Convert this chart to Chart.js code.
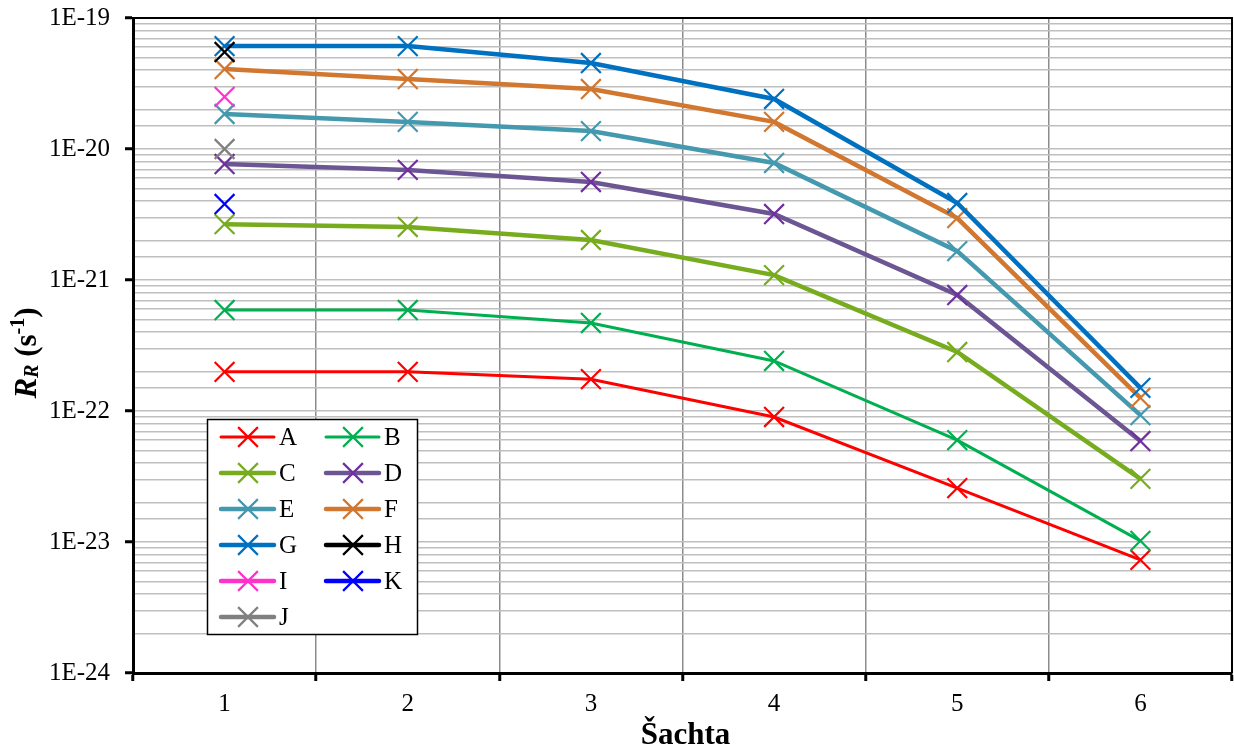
<!DOCTYPE html>
<html>
<head>
<meta charset="utf-8">
<script src="https://cdn.jsdelivr.net/npm/chart.js@4.4.1/dist/chart.umd.min.js"></script>
<style>
  body { margin: 0; background: #fff; }
  #wrap { width: 1234px; height: 751px; }
</style>
</head>
<body>
<div id="wrap"><canvas id="chart" width="1234" height="751"></canvas></div>
<script>
// Shafts on the x axis
const shafts = ['1', '2', '3', '4', '5', '6'];

// R_R values per series (s^-1)
const valsA = [1.99e-22, 1.99e-22, 1.75e-22, 9.0e-23, 2.58e-23, 7.3e-24];
const valsB = [5.9e-22, 5.9e-22, 4.7e-22, 2.41e-22, 6.0e-23, 1.02e-23];
const valsC = [2.67e-21, 2.54e-21, 2.02e-21, 1.09e-21, 2.82e-22, 3.03e-23];
const valsD = [7.68e-21, 6.92e-21, 5.6e-21, 3.19e-21, 7.68e-22, 5.9e-23];
const valsE = [1.85e-20, 1.61e-20, 1.37e-20, 7.82e-21, 1.66e-21, 9.3e-23];
const valsF = [4.08e-20, 3.42e-20, 2.87e-20, 1.61e-20, 2.97e-21, 1.26e-22];
const valsG = [6.1e-20, 6.1e-20, 4.53e-20, 2.41e-20, 3.87e-21, 1.5e-22];
const valsH = [5.5e-20];
const valsI = [2.5e-20];
const valsK = [3.8e-21];
const valsJ = [1.0e-20];

// Decades that get a label and a tick mark
const yDecades = [1e-24, 1e-23, 1e-22, 1e-21, 1e-20, 1e-19];

const FONT = "'Liberation Serif', 'Times New Roman', serif";

// name, values, line colour, marker colour, line width
const seriesDefs = [
    ['A', valsA, '#FF0000', '#FF0000', 3],
    ['B', valsB, '#00B050', '#00B050', 3],
    ['C', valsC, '#77AC1F', '#77AC1F', 4.5],
    ['D', valsD, '#6B5592', '#7030A0', 4.5],
    ['E', valsE, '#4599AF', '#4599AF', 4.5],
    ['F', valsF, '#D17730', '#D17730', 4.5],
    ['G', valsG, '#0070C0', '#0070C0', 4.5],
    ['H', valsH, '#000000', '#000000', 4.5],
    ['I', valsI, '#FF33CC', '#FF33CC', 4.5],
    ['K', valsK, '#0000FF', '#0000FF', 4.5],
    ['J', valsJ, '#808080', '#808080', 4.5]
];

function isDecade(v) {
    const l = Math.log10(v);
    return Math.abs(l - Math.round(l)) < 1e-6;
}

const datasets = seriesDefs.map(([name, vals, line, mark, w], i) => ({
    label: name,
    data: shafts.map((s, k) => (k < vals.length ? vals[k] : null)),
    borderColor: line,
    borderWidth: w,
    pointStyle: 'crossRot',
    pointRadius: 14,
    pointHoverRadius: 14,
    pointBorderWidth: 2.2,
    pointBorderColor: mark,
    pointBackgroundColor: mark,
    fill: false,
    tension: 0,
    spanGaps: false,
    order: -i
}));

// crossRot marker, same shape the chart uses
function drawCross(ctx, x, y, r, color) {
    const d = r * Math.SQRT1_2;
    ctx.save();
    ctx.strokeStyle = color;
    ctx.lineWidth = 2.2;
    ctx.lineCap = 'butt';
    ctx.beginPath();
    ctx.moveTo(x - d, y - d); ctx.lineTo(x + d, y + d);
    ctx.moveTo(x + d, y - d); ctx.lineTo(x - d, y + d);
    ctx.stroke();
    ctx.restore();
}

const frameAndLegend = {
    id: 'frameAndLegend',
    beforeDatasetsDraw(chart) {
        const { ctx, chartArea: a } = chart;
        ctx.save();
        ctx.strokeStyle = '#000';
        ctx.lineWidth = 2;
        ctx.beginPath();
        ctx.moveTo(a.left, a.top);
        ctx.lineTo(a.right, a.top);
        ctx.lineTo(a.right, a.bottom);
        ctx.stroke();
        ctx.restore();
    },
    afterDraw(chart) {
        const { ctx, chartArea: a } = chart;

        // legend box, two columns
        ctx.save();
        ctx.fillStyle = '#fff';
        ctx.fillRect(207, 419, 210, 215);
        ctx.strokeStyle = '#000';
        ctx.lineWidth = 1.5;
        ctx.strokeRect(207.5, 419.5, 210, 215);
        ctx.font = '25px ' + FONT;
        ctx.textBaseline = 'alphabetic';
        ctx.textAlign = 'left';
        seriesDefs.forEach(([name, , line, mark, w], i) => {
            const col = i % 2, row = Math.floor(i / 2);
            const x0 = col ? 326 : 221;
            const y = 437 + row * 36;
            ctx.strokeStyle = line;
            ctx.lineWidth = w;
            ctx.lineCap = 'round';
            ctx.beginPath();
            ctx.moveTo(x0, y);
            ctx.lineTo(x0 + 53, y);
            ctx.stroke();
            drawCross(ctx, x0 + 27, y, 14, mark);
            ctx.fillStyle = '#000';
            ctx.fillText(name, x0 + 58, y + 8);
        });
        ctx.restore();

        // x axis title
        ctx.save();
        ctx.fillStyle = '#000';
        ctx.font = 'bold 31px ' + FONT;
        ctx.textAlign = 'center';
        ctx.textBaseline = 'alphabetic';
        ctx.fillText('Šachta', (a.left + a.right) / 2 + 3, 744);
        ctx.restore();

        // y axis title: R_R (s^-1)
        const parts = [
            { t: 'R', f: 'italic bold 31px ' + FONT, dy: 0 },
            { t: 'R', f: 'italic bold 20px ' + FONT, dy: 2 },
            { t: ' (s', f: 'bold 31px ' + FONT, dy: 0 },
            { t: '-1', f: 'bold 20px ' + FONT, dy: -12 },
            { t: ')', f: 'bold 31px ' + FONT, dy: 0 }
        ];
        ctx.save();
        let total = 0;
        parts.forEach(p => { ctx.font = p.f; p.w = ctx.measureText(p.t).width; total += p.w; });
        ctx.translate(36, 353);
        ctx.rotate(-Math.PI / 2);
        ctx.fillStyle = '#000';
        ctx.textBaseline = 'alphabetic';
        ctx.textAlign = 'left';
        let x = -total / 2;
        parts.forEach(p => { ctx.font = p.f; ctx.fillText(p.t, x, p.dy); x += p.w; });
        ctx.restore();
    }
};

new Chart(document.getElementById('chart'), {
    type: 'line',
    data: { labels: shafts, datasets },
    options: {
        responsive: false,
        animation: false,
        events: [],
        layout: { autoPadding: false, padding: { left: 0, top: 18, right: 2, bottom: 0 } },
        plugins: {
            legend: { display: false },
            tooltip: { enabled: false }
        },
        scales: {
            x: {
                type: 'category',
                offset: true,
                grid: {
                    offset: true,
                    color: ctx => (ctx.index === 0 ? 'rgba(0,0,0,0)' : '#8C8C8C'),
                    lineWidth: 1.5,
                    tickColor: '#000',
                    tickLength: 8,
                    tickWidth: 3
                },
                border: { color: '#000', width: 3 },
                ticks: {
                    color: '#000',
                    font: { family: FONT, size: 25 },
                    padding: 8,
                    maxRotation: 0
                },
                afterFit: s => {
                    s.height = 78;
                    s.paddingLeft = 0;
                    s.paddingRight = 0;
                }
            },
            y: {
                type: 'logarithmic',
                min: yDecades[0],
                max: yDecades[yDecades.length - 1],
                grid: {
                    color: ctx => (ctx.tick && ctx.tick.value <= yDecades[0] * 1.0001 ? 'rgba(0,0,0,0)' : '#BFBFBF'),
                    lineWidth: 1.5,
                    tickColor: ctx => (ctx.tick && isDecade(ctx.tick.value) ? '#000' : 'rgba(0,0,0,0)'),
                    tickLength: 8,
                    tickWidth: 3
                },
                border: { color: '#000', width: 3 },
                ticks: {
                    autoSkip: false,
                    color: '#000',
                    font: { family: FONT, size: 25 },
                    padding: 15,
                    callback: v => (isDecade(v) ? '1E' + Math.round(Math.log10(v)) : '')
                },
                afterFit: s => {
                    s.width = 133;
                    s.paddingTop = 0;
                    s.paddingBottom = 0;
                }
            }
        }
    },
    plugins: [frameAndLegend]
});
</script>
</body>
</html>
